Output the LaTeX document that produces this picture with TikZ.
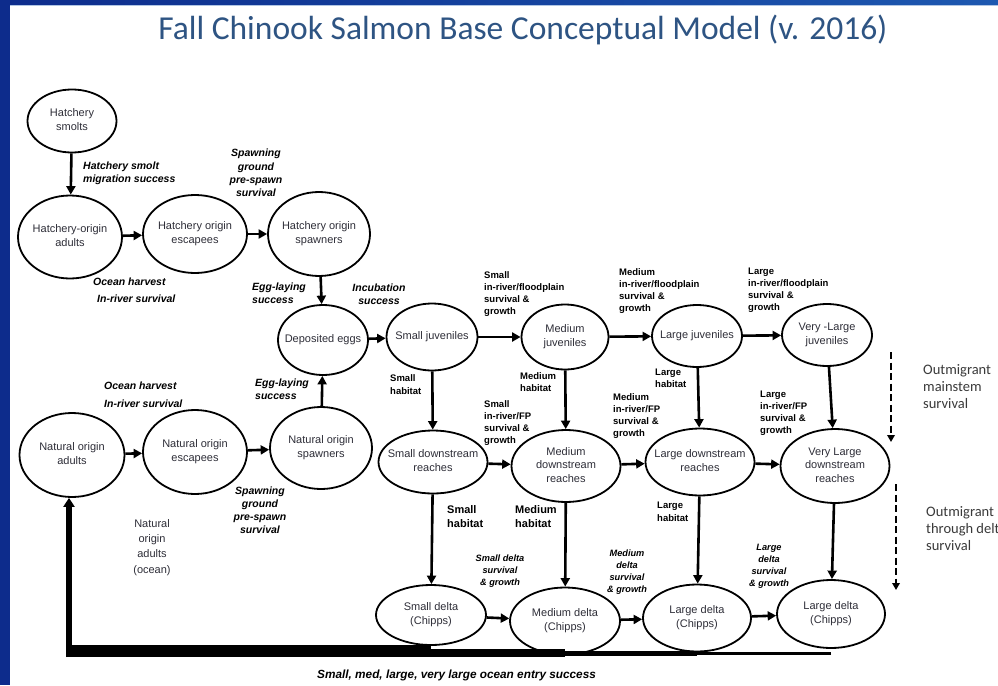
\documentclass[tikz,border=0pt]{standalone}
\usepackage{fontspec}
\setmainfont{Liberation Sans}
\newfontfamily\titlefont{Carlito}
\usetikzlibrary{shapes.geometric,arrows.meta}

\definecolor{frameblue}{HTML}{0D2C8C}
\definecolor{frameblueB}{HTML}{1D58B0}
\definecolor{titleblue}{HTML}{2E5483}
\definecolor{statetext}{HTML}{2E2E38}
\definecolor{notegray}{HTML}{3A3A3A}

% centred multi-line text that does not widen the ellipse around it
\newcommand{\stacktext}[1]{\makebox[0pt]{\begin{tabular}{@{}c@{}}#1\end{tabular}}}

\tikzset{
  state/.style={shape=ellipse, draw, line width=1.8pt, fill=white, inner sep=0pt,
    font=\fontsize{11}{13.5}\selectfont, text=statetext},
  esize/.style 2 args={minimum width=#1, minimum height=#2},
  arr/.style={line width=2.6pt, -{Triangle[length=8.5pt,width=9pt]}},
  dasharr/.style={line width=2.5pt, dash pattern=on 7pt off 3.5pt,
    -{Triangle[length=7pt,width=7.5pt]}},
  labi/.style={inner sep=0pt, font=\fontsize{10.5}{13}\selectfont\bfseries\itshape},
  labs/.style={inner sep=0pt, font=\fontsize{9.5}{12}\selectfont\bfseries, align=left, anchor=north west},
  labh/.style={inner sep=0pt, font=\fontsize{11}{14.5}\selectfont\bfseries, align=left, anchor=north west},
  labd/.style={inner sep=0pt, font=\fontsize{9.2}{12}\selectfont\bfseries\itshape, align=center, anchor=north},
  note/.style={inner sep=0pt, font=\titlefont\fontsize{14.5}{17}\selectfont, text=notegray, align=left, anchor=north west},
}

\begin{document}
\begin{tikzpicture}[x=1pt,y=-1pt]
% page and frame
\fill[white] (0,0) rectangle (998,685);
\useasboundingbox (0,0) rectangle (998,685);
\shade[left color=frameblue, right color=frameblueB] (0,0) rectangle (998,5);
\fill[frameblueB!35] (10,5) rectangle (998,6.3);
\fill[frameblue] (0,0) rectangle (10,685);

% title
\node[font=\titlefont\fontsize{33.5}{40}\selectfont, text=titleblue] (title) at (523,30)
  {Fall Chinook Salmon Base Conceptual Model (v. 2016)};

% hatchery line
\node[state, esize={89}{63}]  (hs)  at (72,121)  {\stacktext{Hatchery\\smolts}};
\node[state, esize={104}{83}] (ha)  at (70,237)  {\stacktext{Hatchery-origin\\adults}};
\node[state, esize={104}{78}] (he)  at (195,234) {\stacktext{Hatchery origin\\escapees}};
\node[state, esize={102}{84}] (hsp) at (319,234) {\stacktext{Hatchery origin\\spawners}};

% eggs and juveniles
\node[state, esize={90}{70}] (de) at (323,340) {\stacktext{Deposited eggs}};
\node[state, esize={91}{67}] (sj) at (432,337) {\stacktext{Small juveniles}};
\node[state, esize={87}{65}] (mj) at (565,337) {\stacktext{Medium\\juveniles}};
\node[state, esize={90}{62}] (lj) at (697,336) {\stacktext{Large juveniles}};
\node[state, esize={90}{62}] (vj) at (827,335) {\stacktext{Very -Large\\juveniles}};

% natural line
\node[state, esize={105}{84}] (na)  at (72,455)  {\stacktext{Natural origin\\adults}};
\node[state, esize={104}{84}] (ne)  at (195,452) {\stacktext{Natural origin\\escapees}};
\node[state, esize={102}{82}] (nsp) at (321,448) {\stacktext{Natural origin\\spawners}};

% downstream reaches
\node[state, esize={109}{63}] (sd) at (433,462) {\stacktext{Small downstream\\reaches}};
\node[state, esize={109}{72}] (md) at (566,466) {\stacktext{Medium\\downstream\\reaches}};
\node[state, esize={109}{67}] (ld) at (700,462) {\stacktext{Large downstream\\reaches}};
\node[state, esize={109}{74}] (vd) at (835,466) {\stacktext{Very Large\\downstream\\reaches}};

% delta
\node[state, esize={110}{60}] (sdel) at (431,615) {\stacktext{Small delta\\(Chipps)}};
\node[state, esize={110}{67}] (mdel) at (565,621) {\stacktext{Medium delta\\(Chipps)}};
\node[state, esize={108}{67}] (ldel) at (697,618) {\stacktext{Large delta\\(Chipps)}};
\node[state, esize={108}{68}] (vdel) at (831,614) {\stacktext{Large delta\\(Chipps)}};

% transitions
\draw[arr] (hs) -- (ha);
\draw[arr] (ha) -- (he);
\draw[arr] (he) -- (hsp);
\draw[arr] (hsp) -- (de);
\draw[arr] (na) -- (ne);
\draw[arr] (ne) -- (nsp);
\draw[arr] (nsp) -- (de);
\draw[arr] (de) -- (sj);
\draw[arr] (sj) -- (mj);
\draw[arr] (mj) -- (lj);
\draw[arr] (lj) -- (vj);
\draw[arr] (sj) -- (sd);
\draw[arr] (mj) -- (md);
\draw[arr] (lj) -- (ld);
\draw[arr] (vj) -- (vd);
\draw[arr] (sd) -- (md);
\draw[arr] (md) -- (ld);
\draw[arr] (ld) -- (vd);
\draw[arr] (sd) -- (sdel);
\draw[arr] (md) -- (mdel);
\draw[arr] (ld) -- (ldel);
\draw[arr] (vd) -- (vdel);
\draw[arr] (sdel) -- (mdel);
\draw[arr] (mdel) -- (ldel);
\draw[arr] (ldel) -- (vdel);

% ocean entry return path, widening as the size classes join
\coordinate (b4) at (66,653.3);
\coordinate (b3) at (66,653);
\coordinate (b2) at (66,653);
\coordinate (b1) at (66,651);
\coordinate (corner) at (69,657);
\draw[line width=2.5pt] (vdel |- b4) -- (b4);
\draw[line width=5pt]   (ldel |- b3) -- (b3);
\draw[line width=8pt]   (mdel |- b2) -- (b2);
\draw[line width=12pt]  (sdel |- b1) -- (b1);
\draw[line width=6pt, -{Triangle[length=9pt,width=11pt]}] (corner) -- (corner |- na.south);

% outmigration arrows
\coordinate (om1s) at (891,352);
\coordinate (om1e) at (891,442);
\coordinate (om2s) at (896,484);
\coordinate (om2e) at (896,590);
\draw[dasharr] (om1s) -- (om1e);
\draw[dasharr] (om2s) -- (om2e);
\node[note] (omtxt1) at (923,364) {Outmigrant\\mainstem\\survival};
\node[note] (omtxt2) at (926,506) {Outmigrant\\through delta\\survival};

% adult stage labels
\node[labi, align=left, anchor=north west] (lhsm) at (83,162) {Hatchery smolt\\migration success};
\node[labi, align=center, anchor=north, font=\fontsize{10.5}{13.3}\selectfont\bfseries\itshape] (lhsp) at (256,149) {Spawning\\ground\\pre-spawn\\survival};
\node[labi, anchor=north west] (lhoh) at (93,278) {Ocean harvest};
\node[labi, anchor=north west] (lhir) at (97,295) {In-river survival};
\node[labi, align=left, anchor=north west] (lhel) at (252,283) {Egg-laying\\success};
\node[labi, align=center, anchor=north] (linc) at (379,284) {Incubation\\success};
\node[labi, anchor=north west] (lnoh) at (104,382) {Ocean harvest};
\node[labi, anchor=north west] (lnir) at (104,400) {In-river survival};
\node[labi, align=left, anchor=north west, font=\fontsize{10.5}{12.5}\selectfont\bfseries\itshape] (lnel) at (255,379) {Egg-laying\\success};
\node[labi, align=center, anchor=north] (lnsp) at (260,487) {Spawning\\ground\\pre-spawn\\survival};
\node[inner sep=0pt, font=\fontsize{11}{15.3}\selectfont, text=statetext, align=center, anchor=north] (lnoc) at (152,519) {Natural\\origin\\adults\\(ocean)};

% juvenile labels
\node[labs] (lsif) at (484,271.5) {Small\\in-river/floodplain\\survival \&\\growth};
\node[labs] (lmif) at (619,268.5) {Medium\\in-river/floodplain\\survival \&\\growth};
\node[labs] (llif) at (748,267.5) {Large\\in-river/floodplain\\survival \&\\growth};
\node[labs, font=\fontsize{9.5}{13}\selectfont\bfseries] (lsh1) at (390,374.5) {Small\\habitat};
\node[labs] (lmh1) at (520,372.5) {Medium\\habitat};
\node[labs] (llh1) at (655,368.5) {Large\\habitat};
\node[labs] (lsfp) at (484,400.5) {Small\\in-river/FP\\survival \&\\growth};
\node[labs] (lmfp) at (613,393.5) {Medium\\in-river/FP\\survival \&\\growth};
\node[labs] (llfp) at (760,390.5) {Large\\in-river/FP\\survival \&\\growth};
\node[labh] (lsh2) at (447,505) {Small\\habitat};
\node[labh] (lmh2) at (515,505) {Medium\\habitat};
\node[labs, font=\fontsize{9.5}{13}\selectfont\bfseries] (llh2) at (657,501.5) {Large\\habitat};
\node[labd] (lsdg) at (500,554.7) {Small delta\\survival\\\& growth};
\node[labd] (lmdg) at (627,549.7) {Medium\\delta\\survival\\\& growth};
\node[labd] (lldg) at (769,543.7) {Large\\delta\\survival\\\& growth};
\node[labi, anchor=north west, font=\fontsize{11.8}{14}\selectfont\bfseries\itshape] (locean) at (317,669.5) {Small, med, large, very large ocean entry success};
\end{tikzpicture}
\end{document}
